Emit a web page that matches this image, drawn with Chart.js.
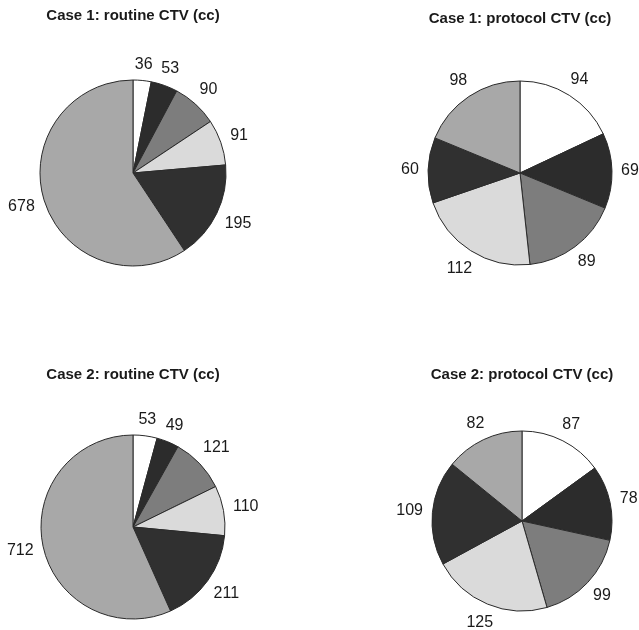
<!DOCTYPE html>
<html lang="en">
<head>
<meta charset="UTF-8">
<script src="https://cdn.jsdelivr.net/npm/chart.js"></script>
<title>CTV pie charts</title>
<style>
  body { margin: 0; background: #fff; }
  #wrap { position: relative; width: 639px; height: 630px; overflow: hidden; }
  .box { position: absolute; }
</style>
</head>
<body>
<div id="wrap">
  <div class="box" style="left:0;top:0"><canvas id="grafico1" width="320" height="315"></canvas></div>
  <div class="box" style="left:320px;top:0"><canvas id="grafico2" width="319" height="315"></canvas></div>
  <div class="box" style="left:0;top:300px"><canvas id="grafico3" width="320" height="330"></canvas></div>
  <div class="box" style="left:320px;top:300px"><canvas id="grafico4" width="319" height="330"></canvas></div>
</div>
<script>
  // data (clockwise from 12 o'clock)
  const segments = ['1', '2', '3', '4', '5', '6'];
  const case1Routine = [36, 53, 90, 91, 195, 678];
  const case1Protocol = [94, 69, 89, 112, 60, 98];
  const case2Routine = [53, 49, 121, 110, 211, 712];
  const case2Protocol = [87, 78, 99, 125, 109, 82];
  const titles = [
    'Case 1: routine CTV (cc)',
    'Case 1: protocol CTV (cc)',
    'Case 2: routine CTV (cc)',
    'Case 2: protocol CTV (cc)'
  ];

  const sliceColors = ['#ffffff', '#2c2c2c', '#7d7d7d', '#dadada', '#303030', '#a8a8a8'];

  // value labels outside each slice
  const etiquetas = {
    id: 'etiquetas',
    afterDatasetsDraw(chart) {
      const ctx = chart.ctx;
      const meta = chart.getDatasetMeta(0);
      const valores = chart.data.datasets[0].data;
      ctx.save();
      ctx.font = '16px "Liberation Sans", Arial, sans-serif';
      ctx.fillStyle = '#1a1a1a';
      ctx.textAlign = 'center';
      ctx.textBaseline = 'middle';
      meta.data.forEach((arc, i) => {
        const p = arc.getProps(['x', 'y', 'startAngle', 'endAngle', 'outerRadius']);
        const a = (p.startAngle + p.endAngle) / 2;
        const txt = String(valores[i]);
        const w = ctx.measureText(txt).width;
        const d = p.outerRadius + 9 + Math.abs(Math.cos(a)) * w / 2 + Math.abs(Math.sin(a)) * 6;
        ctx.fillText(txt, p.x + Math.cos(a) * d, p.y + Math.sin(a) * d);
      });
      ctx.restore();
    }
  };

  function plotarPizza(idGrafico, valores, titulo, radius, padding, titlePad) {
    new Chart(document.getElementById(`grafico${idGrafico}`), {
      type: 'pie',
      data: {
        labels: segments,
        datasets: [{
          data: valores,
          backgroundColor: sliceColors,
          borderColor: '#2a2a2a',
          borderWidth: 1,
          radius: radius,
          clip: false
        }]
      },
      options: {
        responsive: false,
        animation: false,
        devicePixelRatio: 1,
        layout: { padding: padding },
        plugins: {
          legend: { display: false },
          tooltip: { enabled: false },
          title: {
            display: true,
            text: titulo,
            color: '#1a1a1a',
            font: { family: '"Liberation Sans", Arial, sans-serif', size: 15, weight: 'bold', lineHeight: 1.2 },
            padding: titlePad
          }
        }
      },
      plugins: [etiquetas]
    });
  }

  plotarPizza(1, case1Routine, titles[0], 93, { left: 0, right: 54, top: 0, bottom: 14 }, { top: 7, bottom: 20 });
  plotarPizza(2, case1Protocol, titles[1], 92, { left: 81, right: 0, top: 0, bottom: 14 }, { top: 10, bottom: 17 });
  plotarPizza(3, case2Routine, titles[2], 92, { left: 0, right: 54, top: 0, bottom: 0 }, { top: 66, bottom: 40 });
  plotarPizza(4, case2Protocol, titles[3], 90, { left: 85, right: 0, top: 0, bottom: 12 }, { top: 66, bottom: 40 });
</script>
</body>
</html>
